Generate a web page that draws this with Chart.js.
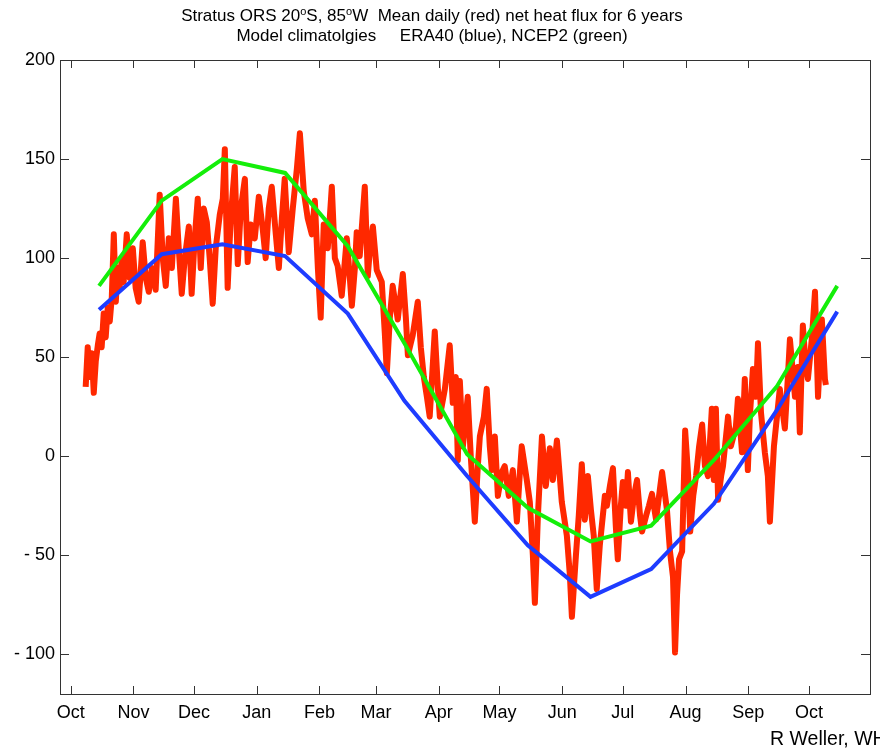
<!DOCTYPE html>
<html>
<head>
<meta charset="utf-8">
<title>Stratus ORS net heat flux</title>
<script src="https://cdn.jsdelivr.net/npm/chart.js@4.4.1/dist/chart.umd.min.js"></script>
<style>
  html, body { margin: 0; padding: 0; background: #fff; overflow: hidden; }
  #wrap { position: relative; width: 880px; height: 752px; }
  #title {
    position: absolute; left: 0; top: 6px; width: 864px;
    text-align: center; font-family: "Liberation Sans", Arial, sans-serif;
    font-size: 17px; line-height: 20px; color: #000;
  }
  #title sup { font-size: 11px; vertical-align: 6px; line-height: 0; }
  #credit {
    position: absolute; left: 770px; top: 727px; white-space: nowrap;
    font-family: "Liberation Sans", Arial, sans-serif; font-size: 19.5px; color: #000;
  }
</style>
</head>
<body>
<div id="wrap">
  <canvas id="mycanvas" width="880" height="752"></canvas>
  <div id="title">
    Stratus ORS 20<sup>o</sup>S, 85<sup>o</sup>W&nbsp; Mean daily (red) net heat flux for 6 years<br>
    Model climatolgies &nbsp;&nbsp;&nbsp; ERA40 (blue), NCEP2 (green)
  </div>
  <div id="credit">R Weller, WHOI</div>
</div>
<script>
// days counted from 1 October
var monthStarts = [0, 31, 61, 92, 123, 151, 182, 212, 243, 273, 304, 335, 365];
var monthLabels = ["Oct", "Nov", "Dec", "Jan", "Feb", "Mar", "Apr", "May", "Jun", "Jul", "Aug", "Sep", "Oct"];
var yTicks = [-100, -50, 0, 50, 100, 150, 200];

// monthly model climatologies, at mid month
var climDays = [14, 45, 75, 106, 137, 165, 196, 226, 257, 287, 318, 349, 379];
var era40 = [74, 102, 107, 101, 72, 28, -10, -45, -71, -57, -24, 23, 73];
var ncep2 = [86, 129, 150, 143, 106, 57, 1, -26, -43, -35, -2, 35, 86];

// mean daily net heat flux
var redDays = [
  7.4, 8.4, 9.4, 10.4, 11.4, 12.4, 13.4, 14.3, 15.3, 16.3, 17.3, 18.3, 19.3, 20.3, 21.3, 22.3,
  23.2, 24.2, 25.2, 26.2, 27.7, 29.2, 30.7, 32.1, 33.6, 35.6, 37.1, 38.6, 40.1, 42, 44, 45.5,
  47, 48.5, 50, 52, 53.4, 54.9, 56.4, 58.4, 59.8, 61.3, 62.8, 64.3, 65.8,
  67.3, 68.7, 70.2, 71.7, 73.7, 75.2, 76.2, 77.6, 79.1, 81.1, 82.6, 84.1, 86.1, 87.5, 89, 91,
  93, 95, 96.4, 97.9, 99.4, 101.4, 102.9, 104.4, 105.8, 107.8, 109.8, 111.8, 113.3, 115.2, 117.2,
  119.2, 120.7, 122.2, 123.6, 125.1, 127.1, 129.1,
  130.6, 132, 134, 135.5, 136.5, 138, 139, 140.5, 141.4, 142.9, 143.9, 145.4, 146.9, 147.9, 149.4,
  151.3, 153.8, 155.3, 156.3, 157.8, 159.2, 161.7, 164.2, 165.7, 166.7, 169.1, 171.6, 173.1, 174.6,
  176.1, 177.5, 180, 181.5, 182.5, 185, 187.4, 188.9, 190.4, 191.4,
  192.4, 193.9, 196.3, 197.8, 199.8, 201.3, 202.3, 204.3, 205.7, 207.2, 208.2, 209.7, 211.2, 213.2,
  214.6, 216.6, 218.6, 220.6, 222.1, 223, 225.5, 227, 228.5, 229.5, 231, 233, 234.9, 236.9, 238.4,
  240.4, 242.8, 245.3, 246.8, 247.8, 249.8, 251.2, 252.7, 254.2, 255.7,
  257.2, 258.6, 260.1, 261.6, 262.6, 264.1, 265.1, 266.6, 268.1, 269.5, 270.5, 272, 273, 274.5,
  275.5, 277, 278.5, 280, 281.5, 282.5, 284.5, 285.9, 287.4, 289.4, 290.9, 292.4, 293.9, 294.8,
  296.3, 297.8, 298.8, 299.8, 300.8, 302.3, 303.8, 305.3, 306.3, 307.8, 309.2, 310.7, 312.2, 313.6,
  315.1, 317, 318,
  319, 320.1, 321.6, 322.5, 324, 325, 326.4, 327.4, 328.9, 329.9, 331.9, 333.3, 334.8, 335.8, 337.3,
  338.8, 339.8, 341.3, 343.2, 344.7, 345.7, 347.7, 349.2, 350.6, 353.1, 354.6, 355.6, 358.1, 359.5,
  360.5, 362, 363.5, 364.5, 366.5, 368, 369.5, 371.4, 372.9, 373.4
];
var redFlux = [
  35, 55, 40, 52, 32, 48, 56, 62, 55, 72, 60, 75, 68, 80, 112, 78,
  95, 85, 100, 88, 112, 90, 105, 85, 78, 108, 90, 83, 95, 84, 132, 100,
  86, 110, 95, 130, 105, 82, 100, 116, 82, 110, 130, 95, 125,
  118, 100, 77, 105, 122, 130, 155, 85, 120, 146, 97, 125, 140, 98, 117, 110,
  131, 114, 100, 125, 136, 112, 95, 120, 140, 103, 125, 145, 163, 134, 120,
  112, 129, 95, 70, 117, 105, 136,
  100, 96, 81, 98, 110, 90, 76, 95, 113, 101, 115, 136, 91, 104, 116,
  94, 88, 62, 42, 70, 86, 69, 92, 70, 51, 61, 78, 55, 40,
  30, 20, 63, 35, 20, 34, 56, 27, 40, -2,
  38, 5, 30, 0, -33, -5, 10, 20, 34, 5, -7, 10, -20, -8,
  -5, -20, -7, -33, -8, 5, -12, -23, -50, -74, -30, 10, -15, 4, -12,
  8, -23, -40, -60, -81, -50, -30, -4, -32, -10,
  -27, -40, -67, -45, -35, -20, -25, -15, -6, -35, -52, -25, -13, -25,
  -8, -33, -20, -12, -30, -38, -30, -25, -19, -32, -20, -8, -20, -27,
  -48, -61, -99, -70, -52, -48, 13, -10, -38, -20, -10, 5, 16, -5,
  -10, 24, -12,
  24, -22, -10, -5, 10, 20, 5, 9, 15, 29, 2, 39, -7, 20, 44,
  30, 57, 22, 2, -10, -33, 5, 20, 34, 14, 40, 59, 30, 45,
  12, 66, 45, 39, 60, 83, 30, 69, 39, 36
];

function pairs(xs, ys) {
  var out = [];
  for (var i = 0; i < xs.length; i++) {
    out.push({x: xs[i], y: ys[i]});
  }
  return out;
}

// inward tick marks on all four sides plus the axes box
var boxTicks = {
  id: 'boxTicks',
  afterDraw: function(chart) {
    var ctx = chart.ctx, a = chart.chartArea;
    var xs = chart.scales.x, ys = chart.scales.y;
    ctx.save();
    ctx.strokeStyle = '#333';
    ctx.lineWidth = 1;
    ctx.strokeRect(Math.round(a.left) + 0.5, Math.round(a.top) + 0.5,
      Math.round(a.right - a.left), Math.round(a.bottom - a.top));
    ctx.beginPath();
    xs.ticks.forEach(function(t) {
      var px = Math.round(xs.getPixelForValue(t.value)) + 0.5;
      ctx.moveTo(px, a.bottom); ctx.lineTo(px, a.bottom - 8);
      ctx.moveTo(px, a.top); ctx.lineTo(px, a.top + 8);
    });
    ys.ticks.forEach(function(t) {
      var py = Math.round(ys.getPixelForValue(t.value)) + 0.5;
      ctx.moveTo(a.left, py); ctx.lineTo(a.left + 9, py);
      ctx.moveTo(a.right, py); ctx.lineTo(a.right - 9, py);
    });
    ctx.stroke();
    ctx.restore();
  }
};

Chart.defaults.font.family = '"Liberation Sans", Arial, sans-serif';
Chart.defaults.color = '#000';

var ctx = document.getElementById('mycanvas');

var fluxChart = new Chart(ctx, {
  type: 'line',
  data: {
    datasets: [
      {
        label: 'NCEP2',
        data: pairs(climDays, ncep2),
        borderColor: 'rgb(20, 238, 10)',
        borderWidth: 4,
        pointRadius: 0,
        tension: 0,
        order: 1
      },
      {
        label: 'ERA40',
        data: pairs(climDays, era40),
        borderColor: 'rgb(30, 60, 255)',
        borderWidth: 4,
        pointRadius: 0,
        tension: 0,
        order: 2
      },
      {
        label: 'Mean daily',
        data: pairs(redDays, redFlux),
        borderColor: 'rgb(255, 40, 0)',
        borderWidth: 6,
        pointRadius: 0,
        tension: 0,
        borderJoinStyle: 'round',
        order: 3
      }
    ]
  },
  options: {
    responsive: false,
    animation: false,
    devicePixelRatio: 1,
    layout: { padding: { top: 60, right: 10, left: 0, bottom: 0 } },
    plugins: {
      legend: { display: false },
      tooltip: { enabled: false },
      title: { display: false }
    },
    scales: {
      x: {
        type: 'linear',
        min: -5.3,
        max: 395.2,
        grid: { display: false, drawTicks: false },
        border: { display: false },
        afterBuildTicks: function(scale) {
          scale.ticks = monthStarts.map(function(v) { return {value: v}; });
        },
        afterFit: function(scale) { scale.height = 58; },
        ticks: {
          autoSkip: false,
          maxRotation: 0,
          padding: 8,
          font: { size: 18 },
          callback: function(v, i) { return monthLabels[i]; }
        }
      },
      y: {
        min: -120,
        max: 200,
        grid: { display: false, drawTicks: false },
        border: { display: false },
        afterBuildTicks: function(scale) {
          scale.ticks = yTicks.map(function(v) { return {value: v}; });
        },
        afterFit: function(scale) { scale.width = 60; },
        ticks: {
          padding: 5,
          font: { size: 18 },
          callback: function(v) { return v < 0 ? '- ' + Math.abs(v) : '' + v; }
        }
      }
    }
  },
  plugins: [boxTicks]
});
</script>
</body>
</html>
